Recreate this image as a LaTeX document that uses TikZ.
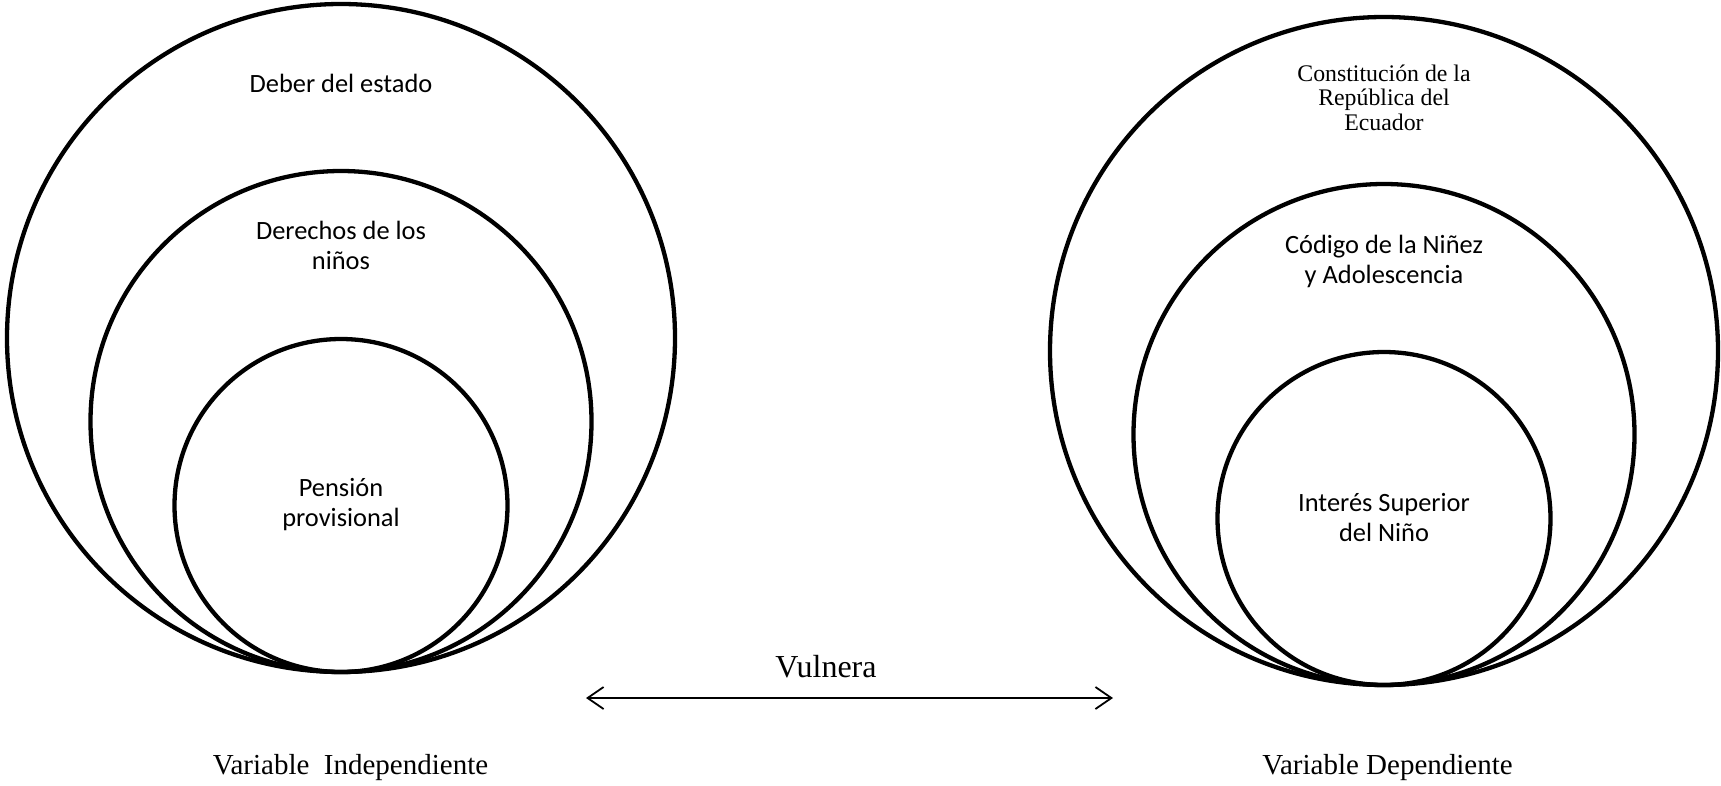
\documentclass[tikz,border=0pt]{standalone}
\usepackage{fontspec}
\setmainfont{Liberation Serif}
\newfontfamily\calib{Carlito}
\usetikzlibrary{arrows.meta}
\tikzset{
  ring/.style={circle, draw=black, line width=4.3pt, inner sep=0pt, outer sep=0pt},
  calabel/.style={font=\calib\fontsize{26.4}{29.3}\selectfont, align=center, inner sep=0pt, anchor=base},
  timeslabel/.style={font=\fontsize{23.8}{24.5}\selectfont, align=center, inner sep=0pt, anchor=base},
  varlabel/.style={font=\fontsize{29}{32}\selectfont, inner sep=0pt, anchor=base},
  conn/.style={line width=1.8pt, {Straight Barb[length=16pt,width=22pt,line width=1.8pt]}-{Straight Barb[length=16pt,width=22pt,line width=1.8pt]}}
}
\begin{document}
\begin{tikzpicture}[x=1pt,y=-1pt]
\useasboundingbox[fill=white] (0,0) rectangle (1721,785);
% left circles
\node[ring, minimum size=668pt] (lo) at (341,338) {};
\node[ring, minimum size=501pt] (lm) at (341,421.5) {};
\node[ring, minimum size=333pt] (li) at (341,505.5) {};
% right circles
\node[ring, minimum size=668pt] (ro) at (1384,351) {};
\node[ring, minimum size=501pt] (rm) at (1384,434.5) {};
\node[ring, minimum size=333pt] (ri) at (1384,518.5) {};
% left labels (base = baseline of last line)
\node[calabel] (lt1) at (341,92) {Deber del estado};
\node[calabel] (lt2) at (341,269) {Derechos de los\\niños};
\node[calabel] (lt3) at (341,526) {Pensión\\provisional};
% right labels
\node[timeslabel] (rt1) at (1384,130) {Constitución de la\\República del\\Ecuador};
\node[calabel] (rt2) at (1384,283) {Código de la Niñez\\y Adolescencia};
\node[calabel] (rt3) at (1384,541) {Interés Superior\\del Niño};
% arrow
\coordinate (al) at (586,698);
\coordinate (ar) at (1113,698);
\draw[conn] (al) -- (ar);
\node[font=\fontsize{32}{36}\selectfont, inner sep=0pt, anchor=base] (vul) at (826,677) {Vulnera};
% variable labels
\node[varlabel] (vi) at (350.5,774) {Variable\ \ Independiente};
\node[varlabel] (vd) at (1387.5,774) {Variable Dependiente};
\end{tikzpicture}
\end{document}
